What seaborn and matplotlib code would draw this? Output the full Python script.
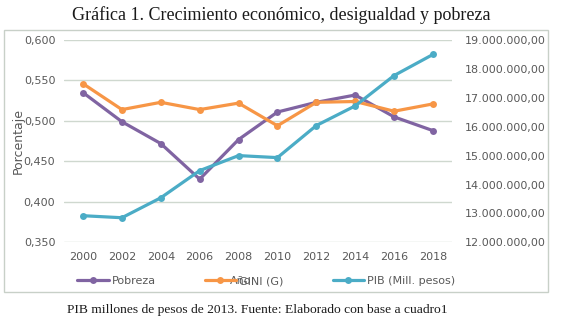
import matplotlib
matplotlib.use("Agg")
import matplotlib.pyplot as plt
import matplotlib.ticker as mticker
from matplotlib.patches import Rectangle
import seaborn as sns
import pandas as pd

# data
anios = ["2000", "2002", "2004", "2006", "2008", "2010", "2012", "2014", "2016", "2018"]
pobreza = [0.535, 0.499, 0.472, 0.428, 0.477, 0.511, 0.523, 0.532, 0.505, 0.488]
gini = [0.546, 0.514, 0.523, 0.514, 0.522, 0.494, 0.523, 0.524, 0.512, 0.521]
pib = [12.92e6, 12.85e6, 13.54e6, 14.48e6, 15.00e6, 14.93e6, 16.04e6, 16.72e6, 17.77e6, 18.50e6]

df = pd.DataFrame({"Año": anios, "Pobreza": pobreza, "GINI": gini, "PIB": pib})

sns.set_style("white")
plt.rcParams["font.family"] = ["DejaVu Sans"]

c_pob = "#8064A2"
c_gini = "#F79646"
c_pib = "#4BACC6"
gris = "#595959"
grid_c = "#cfd8cf"

fig = plt.figure(figsize=(5.62, 3.30), dpi=100)
ax = fig.add_axes([63.6 / 562, 1 - 242.3 / 330, (452.4 - 63.6) / 562, (242.3 - 40) / 330])
ax2 = ax.twinx()

kw = dict(marker="o", markersize=5, linewidth=2.3, markeredgewidth=0)
sns.lineplot(data=df, x="Año", y="Pobreza", ax=ax, color=c_pob, label="Pobreza", legend=False, **kw)
sns.lineplot(data=df, x="Año", y="GINI", ax=ax, color=c_gini, label="GINI (G)", legend=False, **kw)
sns.lineplot(data=df, x="Año", y="PIB", ax=ax2, color=c_pib, label="PIB (Mill. pesos)", legend=False, **kw)

ax.set_xlim(-0.5, 9.5)
ax.set_ylim(0.35, 0.60)
ax.set_yticks([0.35, 0.40, 0.45, 0.50, 0.55, 0.60])
ax.yaxis.set_major_formatter(mticker.FuncFormatter(lambda v, p: f"{v:.3f}".replace(".", ",")))
ax2.set_ylim(12e6, 19e6)
ax2.set_yticks([12e6, 13e6, 14e6, 15e6, 16e6, 17e6, 18e6, 19e6])
ax2.yaxis.set_major_formatter(mticker.FuncFormatter(
    lambda v, p: f"{v:,.2f}".replace(",", "X").replace(".", ",").replace("X", ".")))

ax.grid(axis="y", color=grid_c, linewidth=1)
ax.set_axisbelow(True)
for a in (ax, ax2):
    for s in a.spines.values():
        s.set_visible(False)
    a.tick_params(length=0, labelsize=8, colors=gris, pad=6)
ax.tick_params(axis="x", pad=7)
ax2.tick_params(axis="y", pad=9)
ax.set_xlabel("")
ax2.set_ylabel("")
ax.set_ylabel("Porcentaje", color=gris, fontsize=9, labelpad=-1)

# legend at the bottom
h1, l1 = ax.get_legend_handles_labels()
h2, l2 = ax2.get_legend_handles_labels()
fig.legend(h1 + h2, l1 + l2, loc="center left", bbox_to_anchor=(73 / 562, 1 - 281 / 330),
           ncol=3, frameon=False, fontsize=8, labelcolor=gris, handlelength=2.8,
           handletextpad=0.3, columnspacing=4.4, borderaxespad=0)
# x axis title sits on top of the legend in the original
fig.text(241 / 562, 1 - 281 / 330, "Año", ha="center", va="center", fontsize=8, color=gris)

# chart frame
fig.patches.append(Rectangle((4 / 562, 1 - 292 / 330), 544 / 562, 262 / 330, transform=fig.transFigure,
                             fill=False, edgecolor="#c8d0c8", linewidth=1))

fig.text(0.5, 1 - 15 / 330, "Gráfica 1. Crecimiento económico, desigualdad y pobreza",
         ha="center", va="center", fontsize=13, family="Liberation Serif", color="#1a1a1a")
fig.text(257 / 562, 1 - 310 / 330, "PIB millones de pesos de 2013. Fuente: Elaborado con base a cuadro1",
         ha="center", va="center", fontsize=9.7, family="Liberation Serif", color="#1a1a1a")

fig.savefig("out.png", dpi=100)
